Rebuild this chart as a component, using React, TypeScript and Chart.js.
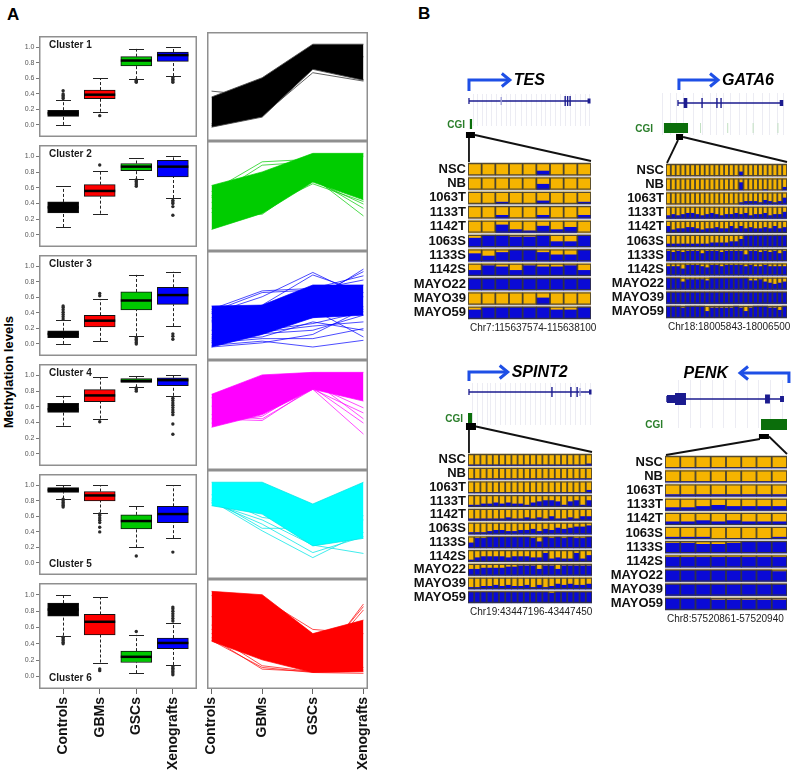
import React, { useEffect, useRef } from 'react';
import { Chart, registerables } from 'chart.js';

Chart.register(...registerables);

const FONT = "'Liberation Sans', Arial, Helvetica, sans-serif";
Chart.defaults.font.family = FONT;

// ================= Panel A data =================
const groups = ['Controls', 'GBMs', 'GSCs', 'Xenografts'];
const groupPositions = [1, 2, 3, 4];
const groupColors = ['#000000', '#ff0000', '#00c800', '#0000ff'];
const clusterNames = ['Cluster 1', 'Cluster 2', 'Cluster 3', 'Cluster 4', 'Cluster 5', 'Cluster 6'];
const clusterColors = ['#000000', '#00cc00', '#0000ff', '#ff00ff', '#00ffff', '#ff0000'];
const clusterStrayColors = ['rgba(70,70,70,0.85)', 'rgba(0,204,0,0.7)', 'rgba(0,0,255,0.7)', 'rgba(255,0,255,0.7)', 'rgba(0,230,230,0.75)', 'rgba(255,0,0,0.7)'];
const yTickValues = [0, 0.2, 0.4, 0.6, 0.8, 1.0];

// box stats per group: [lower whisker, Q1, median, Q3, upper whisker]
const cluster1Boxes = [[0.00, 0.11, 0.15, 0.19, 0.32], [0.17, 0.34, 0.39, 0.45, 0.60], [0.59, 0.76, 0.83, 0.88, 0.98], [0.63, 0.82, 0.90, 0.94, 1.00]];
const cluster2Boxes = [[0.10, 0.28, 0.35, 0.42, 0.62], [0.27, 0.49, 0.56, 0.64, 0.81], [0.71, 0.82, 0.87, 0.91, 0.98], [0.47, 0.74, 0.87, 0.95, 1.00]];
const cluster3Boxes = [[0.00, 0.08, 0.13, 0.17, 0.31], [0.04, 0.22, 0.30, 0.37, 0.58], [0.10, 0.44, 0.56, 0.67, 0.89], [0.23, 0.51, 0.63, 0.73, 0.93]];
const cluster4Boxes = [[0.36, 0.53, 0.57, 0.645, 0.74], [0.45, 0.665, 0.745, 0.82, 0.98], [0.85, 0.91, 0.93, 0.96, 0.99], [0.74, 0.87, 0.94, 0.97, 1.00]];
const cluster5Boxes = [[0.83, 0.91, 0.94, 0.97, 1.00], [0.65, 0.80, 0.87, 0.92, 1.00], [0.20, 0.44, 0.54, 0.62, 0.74], [0.32, 0.52, 0.63, 0.73, 1.00]];
const cluster6Boxes = [[0.50, 0.74, 0.82, 0.90, 1.00], [0.17, 0.51, 0.67, 0.76, 0.97], [0.04, 0.17, 0.24, 0.31, 0.51], [0.14, 0.34, 0.41, 0.47, 0.66]];

const cluster1Outliers = [[0.34, 0.36, 0.38, 0.40, 0.44], [0.12], [0.55, 0.56, 0.57, 0.58], [0.55, 0.57, 0.59, 0.61]];
const cluster2Outliers = [[], [0.89], [0.62, 0.64, 0.66, 0.68, 0.70], [0.25, 0.36, 0.40, 0.42, 0.44]];
const cluster3Outliers = [[0.32, 0.35, 0.38, 0.41, 0.44, 0.47, 0.49], [0.62, 0.65], [0.00, 0.02, 0.04, 0.06, 0.08], [0.06, 0.10, 0.13]];
const cluster4Outliers = [[], [0.41], [0.80, 0.82, 0.84], [0.25, 0.38, 0.50, 0.53, 0.56, 0.59, 0.62, 0.65, 0.68, 0.71]];
const cluster5Outliers = [[0.72, 0.74, 0.76, 0.78, 0.80, 0.82], [0.40, 0.46, 0.52, 0.55, 0.58, 0.61, 0.63], [0.09], [0.14]];
const cluster6Outliers = [[0.40, 0.42, 0.44, 0.46, 0.48], [0.07, 0.09], [0.55], [0.02, 0.04, 0.06, 0.08, 0.10, 0.12, 0.68, 0.71, 0.74, 0.77, 0.80, 0.83, 0.85]];

// line bundles: envelope of the dense band + individual stray profiles [Controls, GBMs, GSCs, Xenografts]
const cluster1Lower = [0.01, 0.13, 0.70, 0.57];
const cluster1Upper = [0.37, 0.60, 1.00, 1.00];
const cluster1Strays = [[0.44, 0.38, 0.70, 0.85], [0.03, 0.15, 0.66, 0.56], [0.05, 0.18, 0.72, 0.58]];
const cluster2Lower = [0.10, 0.29, 0.66, 0.45];
const cluster2Upper = [0.62, 0.78, 1.00, 1.00];
const cluster2Strays = [[0.55, 0.90, 0.93, 0.96], [0.48, 0.86, 0.90, 0.98], [0.35, 0.30, 0.72, 0.26], [0.30, 0.28, 0.70, 0.35], [0.50, 0.40, 0.68, 0.40], [0.42, 0.35, 0.64, 0.43]];
const cluster3Lower = [0.00, 0.15, 0.35, 0.38];
const cluster3Upper = [0.49, 0.50, 0.74, 0.74];
const cluster3Strays = [[0.40, 0.60, 0.89, 0.60], [0.35, 0.50, 0.86, 0.65], [0.30, 0.45, 0.55, 0.93], [0.32, 0.48, 0.60, 0.90], [0.45, 0.67, 0.70, 0.85], [0.42, 0.65, 0.68, 0.80], [0.05, 0.10, 0.10, 0.22], [0.02, 0.07, 0.00, 0.08], [0.10, 0.16, 0.20, 0.38], [0.15, 0.20, 0.28, 0.42], [0.06, 0.18, 0.25, 0.30], [0.00, 0.05, 0.15, 0.45], [0.12, 0.20, 0.45, 0.12], [0.20, 0.30, 0.35, 0.48], [0.08, 0.12, 0.30, 0.20]];
const cluster4Lower = [0.35, 0.50, 0.80, 0.66];
const cluster4Upper = [0.74, 0.97, 1.00, 1.00];
const cluster4Strays = [[0.50, 0.45, 0.80, 0.52], [0.45, 0.43, 0.82, 0.40], [0.60, 0.55, 0.80, 0.27], [0.40, 0.48, 0.85, 0.58], [0.70, 0.90, 0.90, 0.45]];
const cluster5Lower = [0.72, 0.62, 0.24, 0.33];
const cluster5Upper = [1.00, 1.00, 0.74, 1.00];
const cluster5Strays = [[0.80, 0.45, 0.45, 0.55], [0.78, 0.42, 0.10, 0.40], [0.76, 0.50, 0.16, 0.35], [0.75, 0.55, 0.25, 0.15], [0.85, 0.58, 0.50, 0.60]];
const cluster6Lower = [0.41, 0.19, 0.04, 0.05];
const cluster6Upper = [1.00, 0.96, 0.50, 0.66];
const cluster6Strays = [[0.95, 0.92, 0.55, 0.50], [0.60, 0.35, 0.06, 0.85], [0.70, 0.45, 0.10, 0.82], [0.55, 0.25, 0.08, 0.78], [0.45, 0.08, 0.05, 0.10], [0.42, 0.10, 0.04, 0.03], [0.50, 0.12, 0.05, 0.07]];

const allBoxes = [cluster1Boxes, cluster2Boxes, cluster3Boxes, cluster4Boxes, cluster5Boxes, cluster6Boxes];
const allOutliers = [cluster1Outliers, cluster2Outliers, cluster3Outliers, cluster4Outliers, cluster5Outliers, cluster6Outliers];
const allLower = [cluster1Lower, cluster2Lower, cluster3Lower, cluster4Lower, cluster5Lower, cluster6Lower];
const allUpper = [cluster1Upper, cluster2Upper, cluster3Upper, cluster4Upper, cluster5Upper, cluster6Upper];
const allStrays = [cluster1Strays, cluster2Strays, cluster3Strays, cluster4Strays, cluster5Strays, cluster6Strays];

// ================= Panel B data =================
const samples = ['NSC', 'NB', '1063T', '1133T', '1142T', '1063S', '1133S', '1142S', 'MAYO22', 'MAYO39', 'MAYO59'];
// methylated fraction per CpG (tenths), one row per sample
const tesMethylation = [
  [10, 10, 10, 10, 10, 6, 10, 10, 10],
  [10, 10, 10, 10, 10, 5, 10, 10, 10],
  [10, 10, 8, 10, 10, 7, 10, 10, 8],
  [10, 10, 7, 10, 10, 7, 10, 10, 7],
  [10, 10, 3, 7, 8, 4, 7, 5, 10],
  [2, 0, 0, 1, 1, 0, 5, 5, 0],
  [3, 5, 2, 0, 0, 2, 4, 4, 0],
  [5, 1, 2, 5, 1, 2, 2, 1, 5],
  [0, 0, 0, 0, 0, 0, 0, 0, 0],
  [10, 10, 10, 10, 10, 4, 10, 10, 10],
  [2, 0, 0, 0, 0, 0, 2, 2, 0],
];
const gata6Methylation = [
  [10, 10, 10, 10, 10, 10, 10, 10, 10, 10, 10, 10, 10, 10, 10, 6, 10, 10, 10, 10, 10, 10, 10, 10, 10],
  [10, 10, 10, 10, 10, 10, 10, 10, 10, 10, 10, 10, 10, 10, 10, 3, 10, 10, 10, 10, 9, 10, 10, 10, 7],
  [10, 10, 10, 10, 10, 10, 10, 10, 10, 10, 10, 10, 10, 10, 10, 8, 7, 7, 7, 8, 6, 7, 8, 7, 4],
  [7, 6, 7, 6, 5, 5, 6, 7, 6, 5, 6, 7, 6, 6, 5, 6, 5, 7, 6, 6, 5, 7, 6, 6, 4],
  [4, 7, 6, 6, 5, 5, 6, 7, 6, 6, 5, 6, 6, 4, 6, 4, 6, 5, 6, 6, 5, 6, 4, 6, 5],
  [7, 7, 7, 7, 7, 7, 7, 7, 7, 6, 6, 6, 6, 5, 5, 3, 0, 0, 0, 0, 0, 0, 0, 0, 0],
  [1, 2, 1, 2, 1, 1, 1, 3, 1, 1, 1, 2, 1, 1, 1, 1, 4, 1, 1, 2, 1, 2, 1, 3, 1],
  [2, 2, 2, 4, 1, 1, 1, 2, 3, 1, 1, 2, 1, 1, 1, 1, 2, 1, 2, 2, 1, 2, 2, 2, 2],
  [0, 0, 0, 3, 1, 1, 1, 1, 2, 0, 0, 0, 0, 0, 0, 0, 0, 2, 2, 1, 3, 4, 5, 4, 3],
  [0, 0, 0, 0, 0, 0, 0, 0, 0, 0, 0, 0, 0, 0, 0, 0, 0, 0, 0, 0, 0, 0, 0, 0, 0],
  [0, 0, 0, 1, 0, 0, 0, 0, 4, 1, 1, 1, 1, 1, 0, 1, 4, 1, 0, 0, 0, 1, 1, 3, 0],
];
const spint2Methylation = [
  [9, 9, 9, 9, 9, 9, 9, 9, 9, 9, 9, 9, 9, 9, 9, 9, 9, 9, 9, 8],
  [9, 9, 9, 9, 9, 9, 9, 9, 9, 9, 9, 9, 9, 9, 9, 9, 9, 9, 9, 9],
  [9, 9, 9, 9, 9, 9, 9, 9, 9, 9, 9, 9, 9, 9, 9, 9, 9, 9, 9, 7],
  [8, 8, 7, 7, 6, 7, 6, 7, 7, 8, 6, 5, 4, 4, 5, 8, 5, 4, 8, 4],
  [8, 8, 8, 8, 8, 8, 7, 8, 8, 7, 8, 7, 8, 6, 8, 8, 7, 8, 6, 6],
  [8, 8, 8, 7, 6, 6, 7, 7, 6, 6, 5, 7, 5, 6, 4, 5, 4, 3, 3, 2],
  [5, 1, 1, 0, 0, 0, 0, 0, 0, 0, 1, 4, 0, 1, 0, 1, 0, 1, 1, 0],
  [8, 6, 5, 5, 5, 5, 6, 5, 5, 5, 6, 6, 2, 7, 6, 7, 7, 2, 7, 4],
  [4, 4, 3, 3, 3, 3, 2, 2, 1, 1, 1, 4, 1, 1, 4, 1, 1, 1, 1, 1],
  [8, 8, 7, 7, 6, 7, 6, 7, 7, 6, 8, 6, 8, 7, 5, 6, 5, 6, 6, 5],
  [0, 0, 0, 0, 0, 0, 0, 0, 0, 0, 0, 0, 0, 1, 0, 0, 0, 0, 0, 0],
];
const penkMethylation = [
  [9, 9, 9, 9, 9, 9, 9, 9],
  [9, 9, 9, 9, 9, 9, 9, 9],
  [8, 8, 8, 8, 8, 8, 8, 8],
  [7, 7, 6, 5, 6, 6, 6, 6],
  [7, 7, 6, 7, 6, 7, 7, 7],
  [8, 8, 8, 10, 9, 9, 9, 8],
  [1, 1, 2, 2, 1, 0, 0, 0],
  [1, 1, 1, 1, 1, 1, 1, 1],
  [0, 0, 0, 0, 0, 0, 0, 1],
  [0, 0, 0, 0, 0, 0, 0, 0],
  [0, 0, 0, 1, 1, 1, 1, 1],
];

// gene tracks in relative position units (0..100 across the zoomed CpG window)
const tesSpan = [0.8, 99];
const tesExonTicks = [79, 81, 83];
const tesFaintTicks = [27];
const tesExonBoxes = [[97.2, 99.6, 2.5]];
const tesProbes = [4, 7.5, 11, 14.5, 19, 23, 27, 31, 34.5, 38, 43, 47, 51, 55, 59, 63, 67, 71, 75, 79, 83, 87, 91, 95, 98.5];
const tesCgi = [1.5, 3.3];
const tesCgiTicks: number[] = [];

const gata6Span = [9.9, 96.7];
const gata6ExonTicks = [29.8, 42.1, 45.5];
const gata6FaintTicks: number[] = [];
const gata6ExonBoxes = [[14.6, 17.6, 5], [94.0, 96.9, 3]];
const gata6Probes = [-3, 3, 8, 14, 22, 30, 36, 41, 47, 53, 60, 66, 72, 79, 85, 92, 97];
const gata6Cgi = [-1.7, 18.2];
const gata6CgiTicks = [28.5, 51, 72, 92.5];

const spint2Span = [0.8, 99.2];
const spint2ExonTicks = [67.7, 83, 88];
const spint2FaintTicks = [90.3];
const spint2ExonBoxes = [[97.6, 99.6, 2.5]];
const spint2Probes = [3, 7, 11, 15, 18, 22, 26, 30, 34, 38, 42, 46, 50, 54, 58, 62, 66, 70, 74, 78, 82, 86, 90, 94, 98];
const spint2Cgi = [0, 3.3];
const spint2CgiTicks: number[] = [];

const penkSpan = [1.6, 97.5];
const penkExonTicks: number[] = [];
const penkFaintTicks: number[] = [];
const penkExonBoxes = [[1.6, 8.2, 4], [8.2, 17.2, 6], [82, 86, 4.5], [94.3, 97.5, 3]];
const penkProbes = [10.7, 20.5, 28.7, 38.5, 47.5, 57.4, 67.2, 76.2, 86, 95.9];
const penkCgi = [78.7, 100];
const penkCgiTicks: number[] = [];

const genes = [
  { name: 'TES', chr: 'Chr7:115637574-115638100', strand: 1, tss: 0.8, tip: 34, square: 2.0, values: tesMethylation, span: tesSpan, exonTicks: tesExonTicks, faintTicks: tesFaintTicks, exonBoxes: tesExonBoxes, probes: tesProbes, cgi: tesCgi, cgiTicks: tesCgiTicks,
    box: { l: 468, r: 591, t: 162, b: 320 },
    lay: { arrowY: -82, tssBottom: -71, geneY: -61, probeTop: -68, probeBottom: -36, cgiTop: -43, cgiBottom: -33, sqTop: -30, sqBottom: -24, sqW: 9, cgiLabelDx: -3, leftDx: -1.5 } },
  { name: 'GATA6', chr: 'Chr18:18005843-18006500', strand: 1, tss: 10.7, tip: 43, square: 11.2, values: gata6Methylation, span: gata6Span, exonTicks: gata6ExonTicks, faintTicks: gata6FaintTicks, exonBoxes: gata6ExonBoxes, probes: gata6Probes, cgi: gata6Cgi, cgiTicks: gata6CgiTicks,
    box: { l: 666, r: 787, t: 163, b: 319 },
    lay: { arrowY: -83, tssBottom: -73, geneY: -60, probeTop: -70, probeBottom: -28, cgiTop: -40, cgiBottom: -30, sqTop: -29, sqBottom: -23, sqW: 7, cgiLabelDx: -13, leftDx: -1.5 } },
  { name: 'SPINT2', chr: 'Chr19:43447196-43447450', strand: 1, tss: 0.8, tip: 32, square: 2.4, values: spint2Methylation, span: spint2Span, exonTicks: spint2ExonTicks, faintTicks: spint2FaintTicks, exonBoxes: spint2ExonBoxes, probes: spint2Probes, cgi: spint2Cgi, cgiTicks: spint2CgiTicks,
    box: { l: 468, r: 592, t: 453, b: 604 },
    lay: { arrowY: -81, tssBottom: -72, geneY: -61, probeTop: -70, probeBottom: -28, cgiTop: -40, cgiBottom: -30, sqTop: -30, sqBottom: -23, sqW: 10, cgiLabelDx: -5, leftDx: -2 } },
  { name: 'PENK', chr: 'Chr8:57520861-57520940', strand: -1, tss: 101.6, tip: 61.5, square: 81.1, values: penkMethylation, span: penkSpan, exonTicks: penkExonTicks, faintTicks: penkFaintTicks, exonBoxes: penkExonBoxes, probes: penkProbes, cgi: penkCgi, cgiTicks: penkCgiTicks,
    box: { l: 665, r: 787, t: 455, b: 611 },
    lay: { arrowY: -82, tssBottom: -72, geneY: -56, probeTop: -75, probeBottom: -27, cgiTop: -36, cgiBottom: -25, sqTop: -21, sqBottom: -16, sqW: 10, cgiLabelDx: -2, leftDx: -4 } },
];

// ================= layout / style =================
const rowTops = [32, 141, 251, 360, 470, 579];
const rowBottom = 689;
const AXIS_H = 83;
const LINE_PAD = 8;
const FRAME = '#8f8f8f';
const YELLOW = '#f6b400';
const BLUE = '#0a0ad6';
const NAVY = '#1b1b8f';
const ARROW = '#1e4fe6';

function frameAndLabel(label: string | null, bottomLabel: boolean) {
  return {
    id: 'frameAndLabel',
    afterDraw(chart: any) {
      const { ctx, chartArea: a } = chart;
      ctx.save();
      ctx.strokeStyle = FRAME;
      ctx.lineWidth = 1.5;
      ctx.strokeRect(a.left + 0.75, a.top + 0.75, a.right - a.left - 1.5, a.bottom - a.top - 1.5);
      if (label) {
        ctx.fillStyle = '#1a1a1a';
        ctx.font = `bold 10px ${FONT}`;
        ctx.textAlign = 'left';
        ctx.textBaseline = 'alphabetic';
        ctx.fillText(label, a.left + 10, bottomLabel ? a.bottom - 8 : a.top + 12);
      }
      ctx.restore();
    },
  };
}

function boxExtras(stats: number[][]) {
  return {
    id: 'boxExtras',
    beforeDatasetsDraw(chart: any) {
      const { ctx, scales: { x, y } } = chart;
      ctx.save();
      ctx.strokeStyle = '#222';
      ctx.lineWidth = 1;
      stats.forEach((s, j) => {
        const px = Math.round(x.getPixelForValue(groupPositions[j])) + 0.5;
        ctx.setLineDash([3, 2]);
        ctx.beginPath();
        ctx.moveTo(px, y.getPixelForValue(s[0]));
        ctx.lineTo(px, y.getPixelForValue(s[1]));
        ctx.moveTo(px, y.getPixelForValue(s[3]));
        ctx.lineTo(px, y.getPixelForValue(s[4]));
        ctx.stroke();
        ctx.setLineDash([]);
        ctx.beginPath();
        [s[0], s[4]].forEach((v) => {
          const py = Math.round(y.getPixelForValue(v)) + 0.5;
          ctx.moveTo(px - 7.5, py);
          ctx.lineTo(px + 7.5, py);
        });
        ctx.stroke();
      });
      ctx.restore();
    },
    afterDatasetsDraw(chart: any) {
      const { ctx, scales: { x, y } } = chart;
      ctx.save();
      ctx.strokeStyle = '#000';
      ctx.lineWidth = 2.5;
      stats.forEach((s, j) => {
        const px = x.getPixelForValue(groupPositions[j]);
        const py = y.getPixelForValue(s[2]);
        ctx.beginPath();
        ctx.moveTo(px - 15.5, py);
        ctx.lineTo(px + 15.5, py);
        ctx.stroke();
      });
      ctx.restore();
    },
  };
}

function xAxisOptions(show: boolean, min: number, max: number) {
  return {
    type: 'linear',
    min,
    max,
    offset: false,
    display: show,
    afterBuildTicks: (s: any) => { s.ticks = groupPositions.map((v) => ({ value: v })); },
    afterFit: (s: any) => {
      if (show) s.height = AXIS_H;
      s.paddingLeft = 0;
      s.paddingRight = 0;
    },
    ticks: {
      autoSkip: false,
      minRotation: 90,
      maxRotation: 90,
      padding: 3,
      color: '#111',
      font: { size: 14, weight: 'bold', family: FONT },
      callback: (_v: any, i: number) => groups[i],
    },
    grid: { offset: false, drawOnChartArea: false, drawTicks: true, tickLength: 5, color: '#666' },
    border: { display: false },
  };
}

function yAxisOptions(show: boolean) {
  return {
    type: 'linear',
    min: -0.155,
    max: 1.146,
    display: show,
    beginAtZero: false,
    afterBuildTicks: (s: any) => { s.ticks = yTickValues.map((v) => ({ value: v })); },
    afterFit: (s: any) => {
      if (show) s.width = 39;
      s.paddingTop = 0;
      s.paddingBottom = 0;
    },
    ticks: {
      autoSkip: false,
      padding: 1.5,
      color: '#555',
      font: { size: 7, family: FONT },
      callback: (v: any) => Number(v).toFixed(1),
    },
    grid: { drawOnChartArea: false, drawTicks: true, tickLength: 3, color: '#777' },
    border: { display: false },
  };
}

function boxConfig(i: number): any {
  const stats = allBoxes[i];
  const outliers = allOutliers[i];
  const outlierPts: { x: number; y: number }[] = [];
  outliers.forEach((arr, j) => arr.forEach((v) => outlierPts.push({ x: groupPositions[j], y: v })));
  return {
    type: 'bar',
    data: {
      datasets: [
        {
          type: 'scatter',
          data: outlierPts,
          pointRadius: 1.7,
          pointBackgroundColor: '#2a2a2a',
          pointBorderColor: '#2a2a2a',
          pointBorderWidth: 0,
          showLine: false,
          order: 0,
        },
        {
          type: 'bar',
          data: stats.map((s, j) => ({ x: groupPositions[j], y: [s[1], s[3]] })),
          backgroundColor: groupColors,
          borderColor: '#111',
          borderWidth: 1,
          borderSkipped: false,
          barThickness: 31,
          order: 1,
        },
      ],
    },
    options: {
      animation: false,
      responsive: false,
      devicePixelRatio: 1,
      layout: { padding: 0 },
      plugins: { legend: { display: false }, tooltip: { enabled: false } },
      scales: {
        x: xAxisOptions(i === 5, 0.34, 4.66),
        y: yAxisOptions(true),
      },
    },
    plugins: [boxExtras(stats), frameAndLabel(clusterNames[i], i >= 4)],
  };
}

const toPts = (arr: number[]) => arr.map((v, k) => ({ x: groupPositions[k], y: v }));

function lineConfig(i: number): any {
  const col = clusterColors[i];
  const stray = clusterStrayColors[i];
  const datasets: any[] = [
    { data: toPts(allLower[i]), borderColor: stray, borderWidth: 1, pointRadius: 0, fill: false },
    { data: toPts(allUpper[i]), borderColor: stray, borderWidth: 1, pointRadius: 0, fill: '-1', backgroundColor: col },
    ...allStrays[i].map((s) => ({ data: toPts(s), borderColor: stray, borderWidth: 1, pointRadius: 0, fill: false })),
  ];
  return {
    type: 'line',
    data: { datasets },
    options: {
      animation: false,
      responsive: false,
      devicePixelRatio: 1,
      layout: { padding: { left: LINE_PAD, right: LINE_PAD, top: 0, bottom: 0 } },
      elements: { line: { tension: 0 } },
      plugins: { legend: { display: false }, tooltip: { enabled: false } },
      scales: {
        x: xAxisOptions(i === 5, 0.91, 4.09),
        y: yAxisOptions(false),
      },
    },
    plugins: [frameAndLabel(null, false)],
  };
}

const HM_LEFT = 70;
const HM_TOP = 100;
const HM_RIGHT = 12;
const HM_BOTTOM = 18;

function geneTrackPlugin(gene: any) {
  return {
    id: 'geneTrack',
    beforeDatasetsDraw(chart: any) {
      const { ctx, chartArea: a } = chart;
      ctx.save();
      ctx.fillStyle = '#d2d2d2';
      ctx.fillRect(a.left, a.top, a.right - a.left, a.bottom - a.top);
      ctx.restore();
    },
    afterDraw(chart: any) {
      const { ctx, chartArea: a } = chart;
      const gx = chart.scales.gx;
      const X = (v: number) => gx.getPixelForValue(v);
      const L = gene.lay;
      const T = a.top;
      const line = (x1: number, y1: number, x2: number, y2: number) => {
        ctx.beginPath(); ctx.moveTo(x1, y1); ctx.lineTo(x2, y2); ctx.stroke();
      };
      ctx.save();
      // probe positions
      ctx.strokeStyle = '#ececf3';
      ctx.lineWidth = 1;
      gene.probes.forEach((p: number) => {
        const x = Math.round(X(p)) + 0.5;
        line(x, T + L.probeTop, x, T + L.probeBottom);
      });
      // gene body
      const gy = T + L.geneY;
      ctx.strokeStyle = NAVY;
      ctx.lineWidth = 1.3;
      line(X(gene.span[0]), gy, X(gene.span[1]), gy);
      line(X(gene.span[0]), gy - 3, X(gene.span[0]), gy + 3);
      ctx.lineWidth = 1.4;
      gene.exonTicks.forEach((p: number) => line(X(p), gy - 5, X(p), gy + 5));
      ctx.strokeStyle = '#a0a0d8';
      gene.faintTicks.forEach((p: number) => line(X(p), gy - 4, X(p), gy + 4));
      ctx.fillStyle = NAVY;
      gene.exonBoxes.forEach(([s, e, hh]: number[]) => ctx.fillRect(X(s), gy - hh, X(e) - X(s), 2 * hh));
      // CpG island
      ctx.strokeStyle = '#c2e0c2';
      ctx.lineWidth = 1;
      gene.cgiTicks.forEach((p: number) => line(X(p), T + L.cgiTop, X(p), T + L.cgiBottom));
      ctx.fillStyle = '#0b6e0b';
      ctx.fillRect(X(gene.cgi[0]), T + L.cgiTop, X(gene.cgi[1]) - X(gene.cgi[0]), L.cgiBottom - L.cgiTop);
      ctx.fillStyle = '#2a7e2a';
      ctx.font = `bold 10px ${FONT}`;
      ctx.textAlign = 'right';
      ctx.textBaseline = 'middle';
      ctx.fillText('CGI', a.left + L.cgiLabelDx, T + (L.cgiTop + L.cgiBottom) / 2 + 1);
      // zoom square and connecting lines
      const sx = X(gene.square);
      ctx.fillStyle = '#000';
      ctx.fillRect(sx - L.sqW / 2, T + L.sqTop, L.sqW, L.sqBottom - L.sqTop);
      ctx.strokeStyle = '#111';
      ctx.lineWidth = 1.8;
      line(sx + L.leftDx, T + L.sqBottom, a.left + 1, T);
      line(sx + L.sqW / 2, T + (L.sqTop + L.sqBottom) / 2, a.right, T - 1);
      // TSS arrow
      const tx = X(gene.tss);
      const tip = X(gene.tip);
      const ay = T + L.arrowY;
      const dir = tip > tx ? 1 : -1;
      ctx.strokeStyle = ARROW;
      ctx.lineWidth = 3;
      ctx.lineJoin = 'miter';
      ctx.beginPath();
      ctx.moveTo(tx, T + L.tssBottom);
      ctx.lineTo(tx, ay);
      ctx.lineTo(tip, ay);
      ctx.stroke();
      ctx.beginPath();
      ctx.moveTo(tip - dir * 8, ay - 6.5);
      ctx.lineTo(tip, ay);
      ctx.lineTo(tip - dir * 8, ay + 6.5);
      ctx.stroke();
      // gene name
      ctx.fillStyle = '#000';
      ctx.font = `italic bold 16px ${FONT}`;
      ctx.textBaseline = 'middle';
      if (dir === 1) {
        ctx.textAlign = 'left';
        ctx.fillText(gene.name, tip + 4, ay + 1);
      } else {
        ctx.textAlign = 'right';
        ctx.fillText(gene.name, tip - 12, ay + 1);
      }
      // coordinates
      ctx.fillStyle = '#222';
      ctx.font = `10px ${FONT}`;
      ctx.textAlign = 'left';
      ctx.textBaseline = 'middle';
      ctx.fillText(gene.chr, a.left + 2, a.bottom + 8);
      ctx.restore();
    },
  };
}

function heatmapConfig(gene: any): any {
  const n = gene.values[0].length;
  const cols = Array.from({ length: n }, (_, k) => String(k + 1));
  const g = 0.09;
  const h = 1 - 2 * g;
  const datasets: any[] = [];
  gene.values.forEach((row: number[], r: number) => {
    const top = r + g;
    const bottom = r + 1 - g;
    datasets.push({ data: row.map(() => [top, bottom]), backgroundColor: 'rgba(0,0,0,0)', borderColor: 'rgba(55,55,55,0.85)', borderWidth: 0.6, order: 0 });
    datasets.push({ data: row.map((v) => [top, top + (v / 10) * h]), backgroundColor: YELLOW, borderWidth: 0, order: 1 });
    datasets.push({ data: row.map((v) => [top + (v / 10) * h, bottom]), backgroundColor: BLUE, borderWidth: 0, order: 1 });
  });
  return {
    type: 'bar',
    data: { labels: cols, datasets: datasets.map((d) => ({ ...d, xAxisID: 'x', yAxisID: 'y' })) },
    options: {
      animation: false,
      responsive: false,
      devicePixelRatio: 1,
      layout: { padding: { top: HM_TOP, right: HM_RIGHT, bottom: HM_BOTTOM, left: 0 } },
      plugins: { legend: { display: false }, tooltip: { enabled: false } },
      datasets: { bar: { grouped: false, categoryPercentage: 1, barPercentage: 1, borderSkipped: false } },
      scales: {
        x: { type: 'category', display: false, offset: true },
        gx: {
          type: 'linear', axis: 'x', position: 'bottom', display: false, min: 0, max: 100, offset: false,
          grid: { offset: false },
          afterFit: (s: any) => { s.paddingLeft = 0; s.paddingRight = 0; },
        },
        y: {
          type: 'linear',
          min: 0,
          max: samples.length,
          reverse: true,
          afterBuildTicks: (s: any) => { s.ticks = samples.map((_, k) => ({ value: k + 0.5 })); },
          afterFit: (s: any) => { s.width = HM_LEFT; s.paddingTop = 0; s.paddingBottom = 0; },
          ticks: {
            autoSkip: false,
            padding: 2,
            color: '#111',
            font: { size: 13, weight: 'bold', family: FONT },
            callback: (_v: any, k: number) => samples[k],
          },
          grid: { display: false, drawTicks: false },
          border: { display: false },
        },
      },
    },
    plugins: [geneTrackPlugin(gene)],
  };
}

function ChartCanvas({ left, top, width, height, make }: { left: number; top: number; width: number; height: number; make: () => any }) {
  const ref = useRef<HTMLCanvasElement>(null);
  useEffect(() => {
    const chart = new Chart(ref.current as HTMLCanvasElement, make());
    return () => chart.destroy();
  }, []);
  return <canvas ref={ref} width={width} height={height} style={{ position: 'absolute', left, top, width, height }} />;
}

export default function App() {
  const rows = rowTops.map((t, i) => {
    const bottom = i < 5 ? rowTops[i + 1] : rowBottom;
    const hgt = bottom - t + (i === 5 ? AXIS_H : 0);
    return { t, hgt, i };
  });
  return (
    <div style={{ position: 'fixed', left: 0, top: 0, width: 800, height: 772, background: '#fff', overflow: 'hidden', fontFamily: FONT }}>
      <div style={{ position: 'absolute', left: 7, top: 6, fontSize: 17, fontWeight: 'bold', lineHeight: '17px' }}>A</div>
      <div style={{ position: 'absolute', left: 418, top: 5, fontSize: 17, fontWeight: 'bold', lineHeight: '17px' }}>B</div>
      <div style={{ position: 'absolute', left: 9, top: 372, transform: 'translate(-50%, -50%) rotate(-90deg)', fontSize: 13, fontWeight: 'bold', whiteSpace: 'nowrap', lineHeight: '14px' }}>Methylation levels</div>
      {rows.map(({ t, hgt, i }) => (
        <ChartCanvas key={'b' + i} left={0} top={t} width={201} height={hgt} make={() => boxConfig(i)} />
      ))}
      {rows.map(({ t, hgt, i }) => (
        <ChartCanvas key={'l' + i} left={207 - LINE_PAD} top={t} width={161 + 2 * LINE_PAD} height={hgt} make={() => lineConfig(i)} />
      ))}
      {genes.map((gene) => (
        <ChartCanvas
          key={gene.name}
          left={gene.box.l - HM_LEFT}
          top={gene.box.t - HM_TOP}
          width={gene.box.r - gene.box.l + HM_LEFT + HM_RIGHT}
          height={gene.box.b - gene.box.t + HM_TOP + HM_BOTTOM}
          make={() => heatmapConfig(gene)}
        />
      ))}
    </div>
  );
}
